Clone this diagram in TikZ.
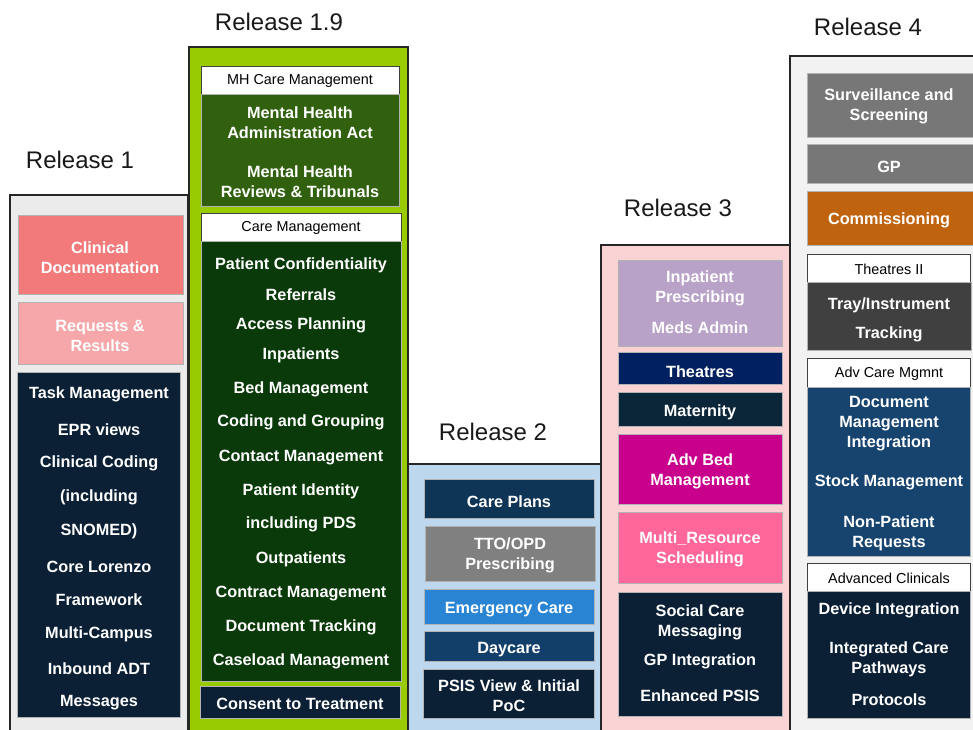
\documentclass[tikz,border=0pt]{standalone}
\usepackage{fontspec}
\setmainfont{Liberation Sans}
\definecolor{relgray}{HTML}{EBEBEB}
\definecolor{relgreen}{HTML}{99CC00}
\definecolor{relblue}{HTML}{BDD7EE}
\definecolor{relpink}{HTML}{F9D3D3}
\definecolor{rellight}{HTML}{F2F2F2}
\definecolor{navy}{HTML}{0B1F35}
\definecolor{mhgreen}{HTML}{31600E}
\definecolor{cmgreen}{HTML}{0A3A0A}
\definecolor{salmon}{HTML}{F27A7A}
\definecolor{lightsalmon}{HTML}{F5A7A9}
\definecolor{careblue}{HTML}{0F3556}
\definecolor{midgray}{HTML}{808080}
\definecolor{emerblue}{HTML}{2985D4}
\definecolor{dayblue}{HTML}{123F6A}
\definecolor{lavender}{HTML}{B8A2C8}
\definecolor{theatreblue}{HTML}{002060}
\definecolor{matnavy}{HTML}{0B2539}
\definecolor{magenta2}{HTML}{C8008C}
\definecolor{hotpink}{HTML}{FF6699}
\definecolor{survgray}{HTML}{777777}
\definecolor{orangebrown}{HTML}{BF630F}
\definecolor{darkgray2}{HTML}{404040}
\definecolor{advblue}{HTML}{17446F}
\begin{document}
\begin{tikzpicture}[x=0.75pt,y=-0.75pt,
  outerbox/.style={draw=black!85,line width=1.1pt},
  inbox/.style={draw=black!30,line width=0.5pt},
  hdrbox/.style={draw=black!75,fill=white,line width=0.6pt},
  reltitle/.style={font=\fontsize{18}{20}\selectfont,text=black!90,inner sep=0pt},
  bodytxt/.style={font=\bfseries\fontsize{12.2}{15}\selectfont,text=white,align=center,inner sep=0pt,yshift=-1.3pt},
  hdrtxt/.style={font=\fontsize{10.8}{12}\selectfont,text=black,inner sep=0pt,yshift=-1pt}]
\useasboundingbox (0,0) rectangle (973,729);

% ---------- Release 1 ----------
\draw[outerbox,fill=relgray] (10,195) rectangle (188,735);
\node[reltitle] (t1) at (80,160) {Release 1};
\draw[inbox,fill=salmon] (18,215) rectangle (183,294);
\node[bodytxt] (clindoc) at (100,256) {Clinical\\Documentation};
\draw[inbox,fill=lightsalmon] (18,302) rectangle (183,364);
\node[bodytxt] (reqres) at (100,334) {Requests \&\\Results};
\draw[inbox,fill=navy] (17,372) rectangle (180,717);
\foreach \y/\t [count=\i] in {393/Task Management,428/EPR views,462/Clinical Coding,
    496/(including,530/SNOMED),565/Core Lorenzo,598/Framework,633/Multi-Campus,
    667/Inbound ADT,701/Messages}
  \node[bodytxt] (rA\i) at (99,\y) {\t};

% ---------- Release 1.9 ----------
\draw[outerbox,fill=relgreen] (189,47) rectangle (408,735);
\node[reltitle] (t19) at (279,22) {Release 1.9};
\draw[hdrbox] (201,66) rectangle (399,94);
\node[hdrtxt] (mhhdr) at (300,80) {MH Care Management};
\draw[inbox,fill=mhgreen] (201,94) rectangle (399,206);
\node[bodytxt] (mha) at (300,121) {Mental Health\\Administration Act};
\node[bodytxt] (mhr) at (300,180) {Mental Health\\Reviews \& Tribunals};
\draw[hdrbox] (201,213) rectangle (401,241);
\node[hdrtxt] (cmhdr) at (301,227) {Care Management};
\draw[inbox,fill=cmgreen] (201,241) rectangle (401,681);
\foreach \y/\t [count=\i] in {264/Patient Confidentiality,293/Referrals,324/Access Planning,
    354/Inpatients,388/Bed Management,421/Coding and Grouping,456/Contact Management,
    490/Patient Identity,523/including PDS,558/Outpatients,592/Contract Management,
    626/Document Tracking,660/Caseload Management}
  \node[bodytxt] (rB\i) at (301,\y) {\t};
\draw[inbox,fill=navy] (200,686) rectangle (400,718);
\node[bodytxt] (consent) at (300,702) {Consent to Treatment};

% ---------- Release 2 ----------
\draw[outerbox,fill=relblue] (408,464) rectangle (601,735);
\node[reltitle] (t2) at (493,432) {Release 2};
\draw[inbox,fill=careblue] (424,479) rectangle (594,518);
\node[bodytxt] (careplans) at (509,500) {Care Plans};
\draw[inbox,fill=midgray] (425,526) rectangle (595,581);
\node[bodytxt] (tto) at (510,554) {TTO/OPD\\Prescribing};
\draw[inbox,fill=emerblue] (424,589) rectangle (594,624);
\node[bodytxt] (emer) at (509,608) {Emergency Care};
\draw[inbox,fill=dayblue] (424,631) rectangle (594,661);
\node[bodytxt] (daycare) at (509,648) {Daycare};
\draw[inbox,fill=navy] (423,669) rectangle (594,718);
\node[bodytxt] (psis) at (509,694) {PSIS View \& Initial\\PoC};

% ---------- Release 3 ----------
\draw[outerbox,fill=relpink] (601,245) rectangle (790,735);
\node[reltitle] (t3) at (678,208) {Release 3};
\draw[inbox,fill=lavender] (618,260) rectangle (782,346);
\node[bodytxt] (inpresc) at (700,287) {Inpatient\\Prescribing};
\node[bodytxt] (meds) at (700,326) {Meds Admin};
\draw[inbox,fill=theatreblue] (618,352) rectangle (782,384);
\node[bodytxt] (theatres) at (700,370) {Theatres};
\draw[inbox,fill=matnavy] (618,392) rectangle (782,426);
\node[bodytxt] (maternity) at (700,411) {Maternity};
\draw[inbox,fill=magenta2] (618,434) rectangle (782,504);
\node[bodytxt] (advbed) at (700,470) {Adv Bed\\Management};
\draw[inbox,fill=hotpink] (618,512) rectangle (782,583);
\node[bodytxt] (multi) at (700,548) {Multi\_Resource\\Scheduling};
\draw[inbox,fill=navy] (618,592) rectangle (782,716);
\node[bodytxt] (social) at (700,621) {Social Care\\Messaging};
\node[bodytxt] (gpint) at (700,660) {GP Integration};
\node[bodytxt] (epsis) at (700,694) {Enhanced PSIS};

% ---------- Release 4 ----------
\draw[outerbox,fill=rellight] (790,56) rectangle (985,735);
\node[reltitle] (t4) at (868,27) {Release 4};
\draw[inbox,fill=survgray] (807,73) rectangle (980,137);
\node[bodytxt] (surv) at (889,105) {Surveillance and\\Screening};
\draw[inbox,fill=survgray] (807,144) rectangle (980,183);
\node[bodytxt] (gp) at (889,165) {GP};
\draw[inbox,fill=orangebrown] (807,191) rectangle (980,245);
\node[bodytxt] (comm) at (889,219) {Commissioning};
\draw[hdrbox] (807,254) rectangle (970,282);
\node[hdrtxt] (th2hdr) at (889,268) {Theatres II};
\draw[inbox,fill=darkgray2] (807,282) rectangle (971,350);
\node[bodytxt] (tray) at (889,304) {Tray/Instrument};
\node[bodytxt] (track) at (889,333) {Tracking};
\draw[hdrbox] (807,358) rectangle (970,387);
\node[hdrtxt] (acmhdr) at (889,372) {Adv Care Mgmnt};
\draw[inbox,fill=advblue] (807,387) rectangle (970,556);
\node[bodytxt] (docman) at (889,422) {Document\\Management\\Integration};
\node[bodytxt] (stock) at (889,481) {Stock Management};
\node[bodytxt] (nonpat) at (889,532) {Non-Patient\\Requests};
\draw[hdrbox] (807,563) rectangle (970,591);
\node[hdrtxt] (achdr) at (889,577) {Advanced Clinicals};
\draw[inbox,fill=navy] (807,591) rectangle (970,718);
\node[bodytxt] (device) at (889,609) {Device Integration};
\node[bodytxt] (icp) at (889,658) {Integrated Care\\Pathways};
\node[bodytxt] (protocols) at (889,698) {Protocols};
\end{tikzpicture}
\end{document}
